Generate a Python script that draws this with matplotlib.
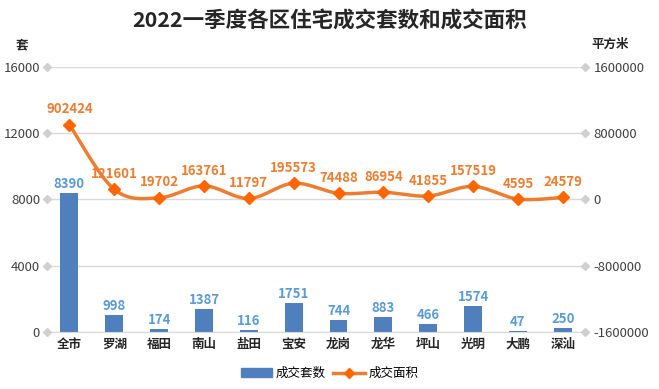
import numpy as np
import matplotlib
matplotlib.use("Agg")
import matplotlib.pyplot as plt
from matplotlib.lines import Line2D
from matplotlib.patches import Patch

plt.rcParams['font.family'] = ['Noto Sans CJK SC', 'DejaVu Sans']

districts = ["全市", "罗湖", "福田", "南山", "盐田", "宝安", "龙岗", "龙华", "坪山", "光明", "大鹏", "深汕"]
units = [8390, 998, 174, 1387, 116, 1751, 744, 883, 466, 1574, 47, 250]
area = [902424, 121601, 19702, 163761, 11797, 195573, 74488, 86954, 41855, 157519, 4595, 24579]
left_ticks = [0, 4000, 8000, 12000, 16000]
right_ticks = [-1600000, -800000, 0, 800000, 1600000]

fig = plt.figure(figsize=(6.59, 3.89), dpi=100)
ax = fig.add_axes([0.0713, 0.1465, 0.8167, 0.6815])
ax2 = ax.twinx()

x = np.arange(len(districts))
bar_color = "#4F7FBC"
ax.bar(x, units, width=0.4, color=bar_color, zorder=2)
for xi, v in zip(x, units):
    ax.annotate(str(v), (xi, v), xytext=(0, 1.5), textcoords="offset points",
                ha="center", va="bottom", color="#5B9BD5", fontsize=9.5, fontweight="bold")

ax.set_ylim(0, 16000)
ax.set_xlim(-0.5, len(districts) - 0.5)
ax.set_yticks(left_ticks)
ax.set_yticklabels([str(t) for t in left_ticks])
ax.set_xticks(x)
ax.set_xticklabels(districts, fontsize=9, fontweight="bold", color="#262626")
ax.tick_params(axis="x", length=0, pad=4)
ax.tick_params(axis="y", length=0, labelsize=9.5, labelcolor="#404040", pad=5)
ax.grid(axis="y", color="#D9D9D9", linewidth=1, zorder=0)
ax.set_axisbelow(True)
for s in ["left", "right", "top"]:
    ax.spines[s].set_visible(False)
ax.spines["bottom"].set_color("#D9D9D9")
for s in ["left", "right", "top", "bottom"]:
    ax2.spines[s].set_visible(False)

# grey diamond tick marks
ax.plot([-0.5] * len(left_ticks), left_ticks, "D", color="#D0D0D0", markersize=4,
        clip_on=False, zorder=3)

# smooth line (Catmull-Rom through the data points)
pts = np.array(area, dtype=float)
xs, ys = [], []
P = np.concatenate([[pts[0]], pts, [pts[-1]]])
X = np.concatenate([[x[0]], x, [x[-1]]]).astype(float)
for i in range(1, len(P) - 2):
    t = np.linspace(0, 1, 30)
    for arr, out in ((X, xs), (P, ys)):
        p0, p1, p2, p3 = arr[i - 1], arr[i], arr[i + 1], arr[i + 2]
        out.extend(0.5 * ((2 * p1) + (-p0 + p2) * t + (2 * p0 - 5 * p1 + 4 * p2 - p3) * t ** 2
                          + (-p0 + 3 * p1 - 3 * p2 + p3) * t ** 3))
ax2.plot(xs, ys, color="#ED7D31", linewidth=2.5, zorder=3, solid_capstyle="round")
ax2.plot(x, area, "D", color="#FF6600", markersize=6, zorder=4)
for xi, v in zip(x, area):
    ax2.annotate(str(v), (xi, v), xytext=(0, 6), textcoords="offset points",
                 ha="center", va="bottom", color="#ED7D31", fontsize=9.5, fontweight="bold")
ax2.set_ylim(-1600000, 1600000)
ax2.set_yticks(right_ticks)
ax2.set_yticklabels([str(t) for t in right_ticks])
ax2.tick_params(axis="y", length=0, labelsize=9.5, labelcolor="#404040", pad=6)
ax2.plot([len(districts) - 0.5] * len(right_ticks), right_ticks, "D", color="#D0D0D0",
         markersize=4, clip_on=False, zorder=3)
ax2.set_xlim(-0.5, len(districts) - 0.5)

fig.text(0.5, 0.945, "2022一季度各区住宅成交套数和成交面积", ha="center", va="center",
         fontsize=15.5, fontweight="bold", color="#262626")
fig.text(0.034, 0.885, "套", ha="center", va="center", fontsize=9, fontweight="bold", color="#262626")
fig.text(0.926, 0.885, "平方米", ha="center", va="center", fontsize=9, fontweight="bold", color="#262626")

handles = [Patch(color=bar_color, label="成交套数"),
           Line2D([0], [0], color="#ED7D31", linewidth=2.5, marker="D", markersize=5,
                  markerfacecolor="#FF6600", markeredgecolor="#FF6600", label="成交面积")]
fig.legend(handles=handles, loc="center", bbox_to_anchor=(0.5, 0.04), ncol=2, frameon=False,
           fontsize=9, handlelength=2.5, columnspacing=0.6, handletextpad=0.3)

fig.savefig("out.png", dpi=100)
